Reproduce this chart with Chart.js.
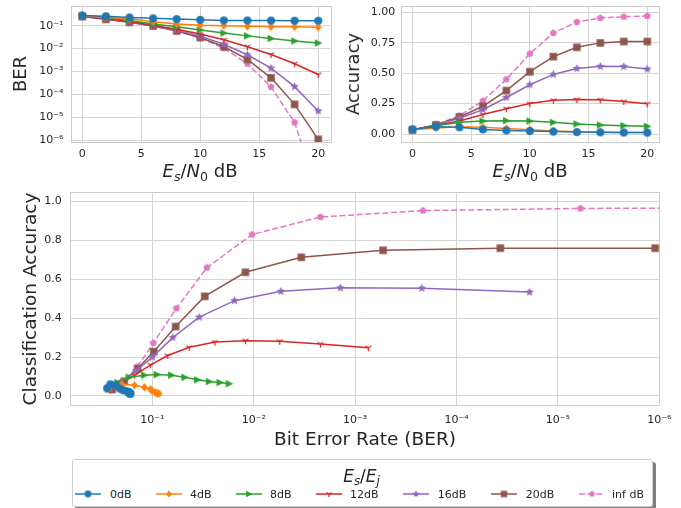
<!DOCTYPE html>
<html><head><meta charset="utf-8">
<script src="https://cdn.jsdelivr.net/npm/chart.js@4.4.1/dist/chart.umd.min.js"></script>
<style>
html,body{margin:0;padding:0;background:#fff}
body{width:681px;height:508px;position:relative;overflow:hidden;font-family:"DejaVu Sans",sans-serif;color:#262626}
canvas{position:absolute;display:block}
.t{position:absolute;white-space:nowrap;color:#262626;font-family:"DejaVu Sans",sans-serif;line-height:1}
.c{transform:translate(-50%,-50%)}
.r{transform:translate(-50%,-50%) rotate(-90deg)}
.t sub{font-size:0.7em;vertical-align:-0.28em;line-height:0}
#legend{position:absolute;left:71.5px;top:459px;width:579px;height:46px;border:1px solid #cfcfcf;border-radius:3px;background:#fff;box-shadow:3px 3px 0 rgba(0,0,0,0.5)}
.lt{position:absolute;font-size:11px;line-height:1;transform:translateY(-50%);color:#262626}
</style></head><body>
<canvas id="c1" width="340" height="185" style="left:0;top:0"></canvas>
<canvas id="c2" width="341" height="185" style="left:340px;top:0"></canvas>
<canvas id="c3" width="681" height="265" style="left:0;top:185px"></canvas>
<div class="t r" style="left:20px;top:74px;font-size:18px">BER</div>
<div class="t c" style="left:200px;top:171px;font-size:18px"><i>E</i><sub><i>s</i></sub>/<i>N</i><sub>0</sub> dB</div>
<div class="t r" style="left:353px;top:74px;font-size:18px">Accuracy</div>
<div class="t c" style="left:530px;top:171px;font-size:18px"><i>E</i><sub><i>s</i></sub>/<i>N</i><sub>0</sub> dB</div>
<div class="t r" style="left:30px;top:299px;font-size:18.5px">Classification Accuracy</div>
<div class="t c" style="left:365px;top:439px;font-size:18.5px">Bit Error Rate (BER)</div>
<div id="legend"></div>
<div class="t c" style="left:361.5px;top:476px;font-size:17px"><i>E</i><sub><i>s</i></sub>/<i>E</i><sub><i>j</i></sub></div>
<script>
// ---------------- DATA ----------------
const snrDb = [0, 2, 4, 6, 8, 10, 12, 14, 16, 18, 20];
const seriesLabels = ['0dB', '4dB', '8dB', '12dB', '16dB', '20dB', 'inf dB'];

const ber0dB   = [0.28, 0.26, 0.23, 0.21, 0.195, 0.18, 0.17, 0.17, 0.168, 0.165, 0.165];
const ber4dB   = [0.27, 0.23, 0.20, 0.15, 0.12, 0.105, 0.10, 0.094, 0.09, 0.089, 0.086];
const ber8dB   = [0.27, 0.22, 0.17, 0.12, 0.09, 0.065, 0.048, 0.036, 0.0275, 0.0216, 0.0175];
const ber12dB  = [0.26, 0.20, 0.15, 0.104, 0.0706, 0.0433, 0.0242, 0.0121, 0.00555, 0.0022, 0.00074];
const ber16dB  = [0.26, 0.20, 0.145, 0.10, 0.063, 0.0345, 0.0155, 0.0054, 0.0014, 0.00022, 0.000019];
const ber20dB  = [0.25, 0.19, 0.14, 0.097, 0.059, 0.0305, 0.0121, 0.0034, 0.00053, 0.000037, 0.0000011];
const berInfdB = [0.25, 0.19, 0.14, 0.098, 0.058, 0.029, 0.0104, 0.0022, 0.000214, 0.000006, 0.0000000045];

const acc0dB   = [0.040, 0.060, 0.055, 0.038, 0.030, 0.025, 0.020, 0.016, 0.014, 0.013, 0.012];
const acc4dB   = [0.035, 0.050, 0.060, 0.055, 0.045, 0.035, 0.025, 0.018, 0.015, 0.013, 0.012];
const acc8dB   = [0.035, 0.069, 0.096, 0.107, 0.110, 0.107, 0.096, 0.083, 0.074, 0.069, 0.063];
const acc12dB  = [0.033, 0.070, 0.107, 0.160, 0.208, 0.250, 0.277, 0.284, 0.281, 0.267, 0.248];
const acc16dB  = [0.033, 0.075, 0.130, 0.200, 0.300, 0.405, 0.490, 0.538, 0.556, 0.554, 0.534];
const acc20dB  = [0.033, 0.075, 0.140, 0.228, 0.357, 0.512, 0.636, 0.713, 0.749, 0.760, 0.760];
const accInfdB = [0.033, 0.077, 0.151, 0.272, 0.450, 0.660, 0.830, 0.920, 0.953, 0.964, 0.970];

const snrTicks = [0, 5, 10, 15, 20];
const berTicks = [1e-1, 1e-2, 1e-3, 1e-4, 1e-5, 1e-6];
const accTicksTop = [0, 0.25, 0.5, 0.75, 1.0];
const accTicksBottom = [0, 0.2, 0.4, 0.6, 0.8, 1.0];

// ---------------- STYLE ----------------
const berSeries = [ber0dB, ber4dB, ber8dB, ber12dB, ber16dB, ber20dB, berInfdB];
const accSeries = [acc0dB, acc4dB, acc8dB, acc12dB, acc16dB, acc20dB, accInfdB];
const colors = ['#1f77b4', '#ff7f0e', '#2ca02c', '#d62728', '#9467bd', '#8c564b', '#e377c2'];
const shapes = ['circle', 'diamond', 'triright', 'tridown', 'star', 'square', 'pentagon'];
const sizes = [8, 8.5, 8.5, 7, 9, 7.5, 7.5];
const TXT = '#262626', GRID = '#d4d4d4';

function marker(shape, color, size) {
  const s = Math.ceil(size) + 4;
  const c = document.createElement('canvas');
  c.width = s; c.height = s;
  const g = c.getContext('2d');
  g.translate(s / 2, s / 2);
  g.fillStyle = color; g.strokeStyle = color;
  const r = size / 2;
  g.beginPath();
  if (shape === 'circle') { g.arc(0, 0, r, 0, Math.PI * 2); g.fill(); }
  else if (shape === 'diamond') { g.moveTo(0, -r); g.lineTo(r * 0.8, 0); g.lineTo(0, r); g.lineTo(-r * 0.8, 0); g.closePath(); g.fill(); }
  else if (shape === 'triright') { g.moveTo(r, 0); g.lineTo(-r * 0.8, -r * 0.9); g.lineTo(-r * 0.8, r * 0.9); g.closePath(); g.fill(); }
  else if (shape === 'tridown') { g.lineWidth = 1.3; g.moveTo(0, 0); g.lineTo(0, r); g.moveTo(0, 0); g.lineTo(-0.866 * r, -0.5 * r); g.moveTo(0, 0); g.lineTo(0.866 * r, -0.5 * r); g.stroke(); }
  else if (shape === 'star') {
    for (let i = 0; i < 10; i++) {
      const a = -Math.PI / 2 + i * Math.PI / 5;
      const rr = i % 2 ? r * 0.45 : r;
      if (i === 0) g.moveTo(rr * Math.cos(a), rr * Math.sin(a)); else g.lineTo(rr * Math.cos(a), rr * Math.sin(a));
    }
    g.closePath(); g.fill();
  }
  else if (shape === 'square') { g.rect(-r, -r, 2 * r, 2 * r); g.fill(); }
  else if (shape === 'pentagon') {
    for (let i = 0; i < 5; i++) {
      const a = -Math.PI / 2 + i * 2 * Math.PI / 5;
      if (i === 0) g.moveTo(r * Math.cos(a), r * Math.sin(a)); else g.lineTo(r * Math.cos(a), r * Math.sin(a));
    }
    g.closePath(); g.fill();
  }
  return c;
}
const markers = shapes.map((s, i) => marker(s, colors[i], sizes[i]));

function supNum(n) {
  const m = {'0':'⁰','1':'¹','2':'²','3':'³','4':'⁴','5':'⁵','6':'⁶','7':'⁷','8':'⁸','9':'⁹','-':'⁻'};
  return String(n).split('').map(ch => m[ch]).join('');
}
function logLabel(v) { return '10' + supNum(Math.round(Math.log10(v))); }

const framePlugin = {
  id: 'frame',
  beforeDatasetsDraw(chart) {
    const a = chart.chartArea, ctx = chart.ctx;
    ctx.save(); ctx.strokeStyle = '#cccccc'; ctx.lineWidth = 1;
    ctx.strokeRect(Math.round(a.left) + 0.5, Math.round(a.top) + 0.5, Math.round(a.right - a.left), Math.round(a.bottom - a.top));
    ctx.restore();
  }
};

function yAxisBase(width, pad) {
  return {
    grid: { color: GRID, lineWidth: 1, drawTicks: false },
    border: { display: false },
    ticks: { color: TXT, font: { family: 'DejaVu Sans', size: 11 }, padding: pad },
    afterFit: s => { s.width = width; s.paddingTop = 0; s.paddingBottom = 0; }
  };
}
function xAxisBase(height, pad) {
  return {
    grid: { color: GRID, lineWidth: 1, drawTicks: false },
    border: { display: false },
    ticks: { color: TXT, font: { family: 'DejaVu Sans', size: 11 }, padding: pad, maxRotation: 0, autoSkip: false },
    afterFit: s => { s.height = height; s.paddingLeft = 0; s.paddingRight = 0; }
  };
}

function makeDatasets(points) {
  return seriesLabels.map((lab, i) => ({
    label: lab,
    data: points(i),
    borderColor: colors[i],
    backgroundColor: colors[i],
    borderWidth: 1.5,
    borderDash: i === 6 ? [6, 2.6] : [],
    pointStyle: markers[i],
    pointRadius: 4,
    tension: 0,
    clip: 0
  }));
}

const common = {
  responsive: false, animation: false, devicePixelRatio: 1,
  plugins: { legend: { display: false }, tooltip: { enabled: false } },
  events: []
};

// Chart 1: BER vs Es/N0
new Chart(document.getElementById('c1'), {
  type: 'line',
  data: { datasets: makeDatasets(i => snrDb.map((x, k) => ({ x: x, y: berSeries[i][k] }))) },
  options: Object.assign({}, common, {
    layout: { padding: { top: 6, right: 10, left: 0, bottom: 0 } },
    scales: {
      x: Object.assign(xAxisBase(43, 6), {
        type: 'linear', min: -1, max: 21,
        afterBuildTicks: s => { s.ticks = snrTicks.map(v => ({ value: v })); }
      }),
      y: Object.assign(yAxisBase(70.5, 7), {
        type: 'logarithmic', min: Math.pow(10, -6.074), max: Math.pow(10, -0.14),
        afterBuildTicks: s => { s.ticks = berTicks.map(v => ({ value: v })); }
      })
    }
  }),
  plugins: [framePlugin]
});
Chart.defaults.font.family = 'DejaVu Sans';

// Chart 2: Accuracy vs Es/N0
new Chart(document.getElementById('c2'), {
  type: 'line',
  data: { datasets: makeDatasets(i => snrDb.map((x, k) => ({ x: x, y: accSeries[i][k] }))) },
  options: Object.assign({}, common, {
    layout: { padding: { top: 6, right: 22, left: 0, bottom: 0 } },
    scales: {
      x: Object.assign(xAxisBase(43.3, 6), {
        type: 'linear', min: -1, max: 21,
        afterBuildTicks: s => { s.ticks = snrTicks.map(v => ({ value: v })); }
      }),
      y: Object.assign(yAxisBase(60.7, 5.5), {
        type: 'linear', min: -0.063, max: 1.052,
        afterBuildTicks: s => { s.ticks = accTicksTop.map(v => ({ value: v })); }
      })
    }
  }),
  plugins: [framePlugin]
});
Chart.getChart('c2').options.scales.y.ticks.callback = v => v.toFixed(2);
Chart.getChart('c2').update();

// Chart 3: Accuracy vs BER
new Chart(document.getElementById('c3'), {
  type: 'line',
  data: { datasets: makeDatasets(i => berSeries[i].map((b, k) => ({ x: b, y: accSeries[i][k] }))) },
  options: Object.assign({}, common, {
    layout: { padding: { top: 7.3, right: 21.7, left: 0, bottom: 0 } },
    scales: {
      x: Object.assign(xAxisBase(44.3, 7.5), {
        type: 'logarithmic', reverse: true, min: 1e-6, max: Math.pow(10, -0.19),
        afterBuildTicks: s => { s.ticks = berTicks.map(v => ({ value: v })); }
      }),
      y: Object.assign(yAxisBase(70.3, 8.5), {
        type: 'linear', min: -0.05, max: 1.047,
        afterBuildTicks: s => { s.ticks = accTicksBottom.map(v => ({ value: v })); }
      })
    }
  }),
  plugins: [framePlugin]
});
Chart.getChart('c3').options.scales.x.ticks.callback = v => logLabel(v);
Chart.getChart('c3').options.scales.y.ticks.callback = v => v.toFixed(1);
Chart.getChart('c3').update();
Chart.getChart('c1').options.scales.y.ticks.callback = v => logLabel(v);
Chart.getChart('c1').options.scales.x.ticks.callback = v => String(v);
Chart.getChart('c1').update();
Chart.getChart('c2').options.scales.x.ticks.callback = v => String(v);
Chart.getChart('c2').update();

// ---------------- LEGEND (HTML) ----------------
const handleX = [75, 155.7, 235.7, 315.5, 403, 490.7, 579];
const textX = [110, 190, 270, 350, 437.7, 525.7, 612];
const legendY = 494.3;
seriesLabels.forEach((lab, i) => {
  const h = document.createElement('canvas');
  h.width = 28; h.height = 12;
  h.style.left = handleX[i] + 'px'; h.style.top = (legendY - 6) + 'px';
  const g = h.getContext('2d');
  g.strokeStyle = colors[i]; g.lineWidth = 1.5;
  if (i === 6) g.setLineDash([6, 2.6]);
  g.beginPath(); g.moveTo(0, 6); g.lineTo(26, 6); g.stroke();
  g.setLineDash([]);
  const m = marker(shapes[i], colors[i], sizes[i] * 0.85);
  g.drawImage(m, 13 - m.width / 2, 6 - m.height / 2);
  document.body.appendChild(h);
  const t = document.createElement('div');
  t.className = 'lt'; t.textContent = lab;
  t.style.left = textX[i] + 'px'; t.style.top = legendY + 'px';
  document.body.appendChild(t);
});
</script>
</body></html>
